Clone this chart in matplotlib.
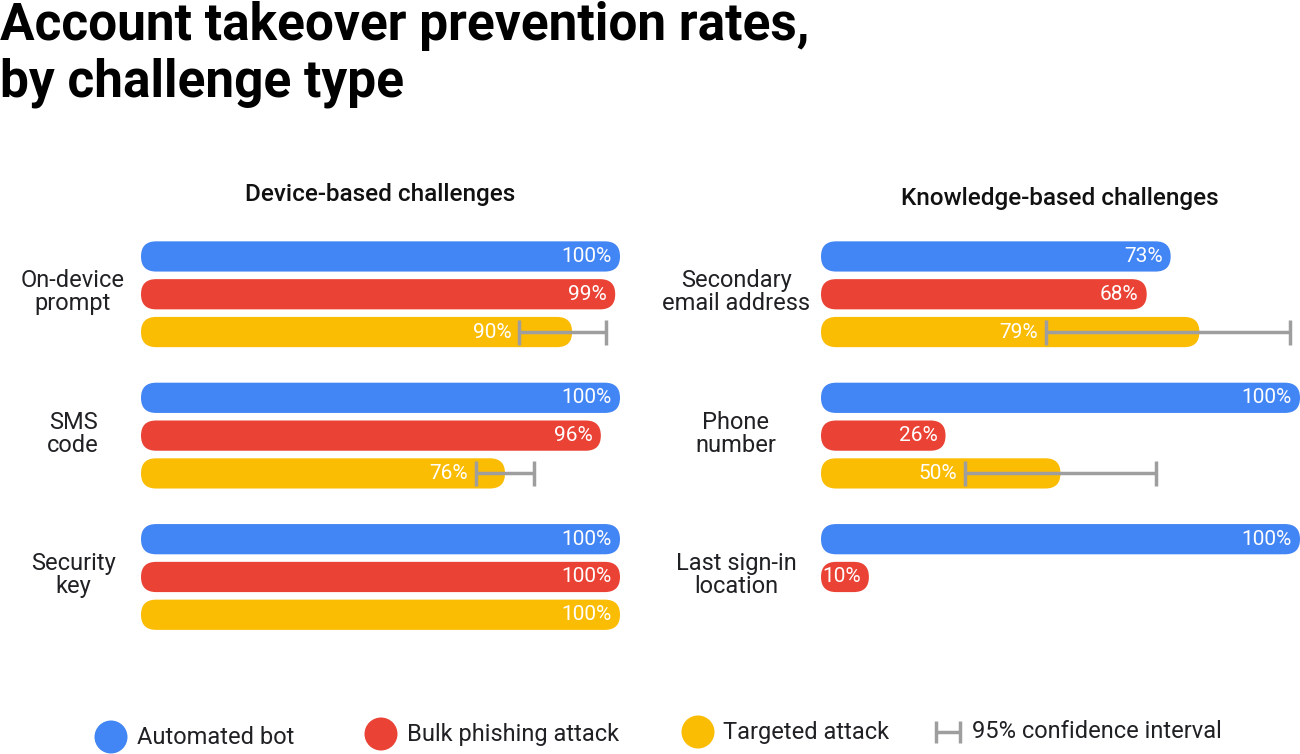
import matplotlib
matplotlib.use("Agg")
import matplotlib.pyplot as plt
from matplotlib.patches import FancyBboxPatch, Ellipse

plt.rcParams['font.family'] = ['Roboto', 'DejaVu Sans']

# ---------------- data ----------------
series = ["Automated bot", "Bulk phishing attack", "Targeted attack"]
colors = ["#4285F4", "#EA4335", "#FBBC04"]

device_categories = ["On-device\nprompt", "SMS\ncode", "Security\nkey"]
device_bot = [100, 100, 100]
device_bulk = [99, 96, 100]
device_targeted = [90, 76, 100]
device_ci_low = [79, 70, None]
device_ci_high = [97, 82, None]

knowledge_categories = ["Secondary\nemail address", "Phone\nnumber", "Last sign-in\nlocation"]
knowledge_bot = [73, 100, 100]
knowledge_bulk = [68, 26, 10]
knowledge_targeted = [79, 50, None]
knowledge_ci_low = [47, 30, None]
knowledge_ci_high = [98, 70, None]

# ---------------- figure ----------------
W, H, DPI = 1300, 754, 100
fig = plt.figure(figsize=(W / DPI, H / DPI), dpi=DPI)

GAP = 3.74     # distance between groups (in bar steps)
BAR_H = 0.80
Y_TOP, Y_BOT = -0.7, 10.28
AX_TOP_PX, AX_BOT_PX = 230, 645


def make_axes(left_px):
    ax = fig.add_axes([left_px / W, 1 - AX_BOT_PX / H, 479 / W, (AX_BOT_PX - AX_TOP_PX) / H])
    ax.set_xlim(0, 100)
    ax.set_ylim(Y_BOT, Y_TOP)
    ax.axis("off")
    return ax


def draw_panel(ax, categories, bot, bulk, targeted, ci_low, ci_high, title, title_x_px, title_y_px, label_x_px):
    px_x = 479 / 100.0
    px_y = (AX_BOT_PX - AX_TOP_PX) / (Y_BOT - Y_TOP)
    r_px = BAR_H * px_y / 2
    r = r_px / px_x
    aspect = px_x / px_y
    vals = [bot, bulk, targeted]
    for g, cat in enumerate(categories):
        ys = []
        for i in range(3):
            v = vals[i][g]
            y = g * GAP + i
            ys.append(y)
            if v is None:
                continue
            p = FancyBboxPatch((0, y - BAR_H / 2), v, BAR_H,
                               boxstyle=f"round,pad=0,rounding_size={r}",
                               mutation_aspect=aspect, fc=colors[i], ec="none",
                               clip_on=False)
            ax.add_patch(p)
            lab_x = v
            if i == 2 and ci_low[g] is not None:
                lab_x = min(v, ci_low[g])
                ax.errorbar([v], [y], xerr=[[v - ci_low[g]], [ci_high[g] - v]],
                            fmt="none", ecolor="#9E9E9E", elinewidth=2.5,
                            capsize=9, capthick=2.5, clip_on=False, zorder=5)
            ax.annotate(f"{v}%", (lab_x, y), xytext=(-8, 0), textcoords="offset pixels",
                        ha="right", va="center", color="white", fontsize=15,
                        clip_on=False)
        # category label, centred on the middle bar
        ypx = AX_TOP_PX + (ys[1] - Y_TOP) * px_y
        fig.text(label_x_px / W, 1 - (ypx - 2) / H, cat, ha="center", va="center",
                 fontsize=17, color="#202124", linespacing=1.0)
    fig.text(title_x_px / W, 1 - title_y_px / H, title, ha="center", va="center",
             fontsize=17.5, fontweight="medium", color="#111111")


axL = make_axes(141)
draw_panel(axL, device_categories, device_bot, device_bulk, device_targeted,
           device_ci_low, device_ci_high, "Device-based challenges", 380, 195, 73)
axR = make_axes(821)
draw_panel(axR, knowledge_categories, knowledge_bot, knowledge_bulk, knowledge_targeted,
           knowledge_ci_low, knowledge_ci_high, "Knowledge-based challenges", 1060, 198, 736)

# ---------------- title ----------------
fig.text(0.0 / W, 1 - 1 / H, "Account takeover prevention rates,\nby challenge type",
         ha="left", va="top", fontsize=37, fontweight="bold", color="black", linespacing=1.17)

# ---------------- legend ----------------
lax = fig.add_axes([0, 0, 1, 1])
lax.set_xlim(0, W)
lax.set_ylim(H, 0)
lax.axis("off")
legend_items = [(111, 737, 137), (381, 734, 407), (698, 732, 723)]
for (cx, cy, tx), name, c in zip(legend_items, series, colors):
    lax.add_patch(Ellipse((cx, cy), 33, 33, fc=c, ec="none"))
    lax.text(tx, cy, name, ha="left", va="center", fontsize=17, color="#202124")
lax.errorbar([948], [732], xerr=[[12], [12]], fmt="none", ecolor="#9E9E9E",
             elinewidth=2.5, capsize=8, capthick=2.5)
lax.text(972, 732, "95% confidence interval", ha="left", va="center", fontsize=17, color="#202124")

fig.savefig("out.png", dpi=DPI, facecolor="white")
